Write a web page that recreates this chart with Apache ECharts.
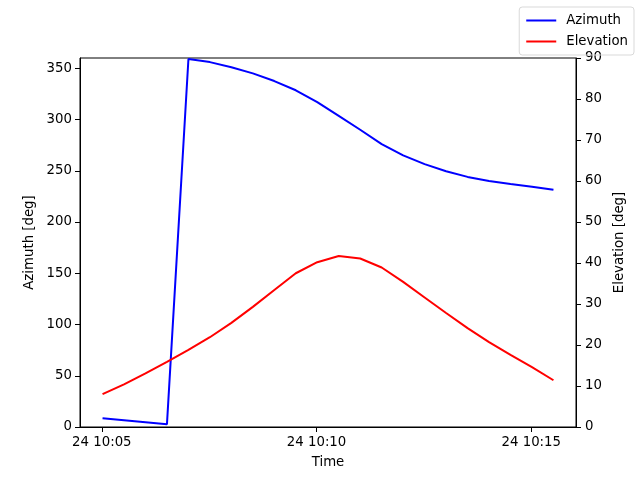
<!DOCTYPE html>
<html>
<head>
<meta charset="utf-8">
<script src="https://cdn.jsdelivr.net/npm/echarts@6/dist/echarts.min.js"></script>
<style>html,body{margin:0;padding:0;background:#fff;}#c{width:640px;height:480px;}</style>
</head>
<body>
<div id="c"></div>
<script>
var times = [
  '2024-01-24T10:05:01', '2024-01-24T10:05:31', '2024-01-24T10:06:01', '2024-01-24T10:06:31',
  '2024-01-24T10:07:01', '2024-01-24T10:07:31', '2024-01-24T10:08:01', '2024-01-24T10:08:31',
  '2024-01-24T10:09:01', '2024-01-24T10:09:31', '2024-01-24T10:10:01', '2024-01-24T10:10:31',
  '2024-01-24T10:11:01', '2024-01-24T10:11:31', '2024-01-24T10:12:01', '2024-01-24T10:12:31',
  '2024-01-24T10:13:01', '2024-01-24T10:13:31', '2024-01-24T10:14:01', '2024-01-24T10:14:31',
  '2024-01-24T10:15:01', '2024-01-24T10:15:31'
];
var azimuth = [8.5, 6.6, 4.7, 2.8, 359.0, 356.0, 351.0, 345.0, 337.5, 328.5, 317.0, 303.5,
               290.0, 276.0, 265.0, 256.5, 249.5, 244.0, 240.0, 237.0, 234.5, 231.5];
var elevation = [8.0, 10.4, 13.1, 15.9, 18.8, 21.9, 25.4, 29.3, 33.4, 37.5, 40.2, 41.7,
                 41.1, 38.9, 35.4, 31.6, 27.8, 24.1, 20.7, 17.6, 14.6, 11.4];
var timeTicks = ['2024-01-24T10:05:00', '2024-01-24T10:10:00', '2024-01-24T10:15:00'];
var xMin = '2024-01-24T10:04:29.5';
var xMax = '2024-01-24T10:16:02.5';
var azTicks = { min: 0, max: 360, interval: 50 };
var elTicks = { min: 0, max: 90, interval: 10 };

function ms(s) { return new Date(s).getTime(); }
function pair(vals) {
  return vals.map(function (v, i) { return [ms(times[i]), v]; });
}
function pad(n) { return (n < 10 ? '0' : '') + n; }
var tickValues = timeTicks.map(ms);

var font = 'DejaVu Sans';
var chart = echarts.init(document.getElementById('c'), null, { renderer: 'canvas' });
chart.setOption({
  animation: false,
  backgroundColor: '#ffffff',
  textStyle: { fontFamily: font },
  grid: {
    left: 80, right: 64, top: 58, bottom: 53,
    containLabel: false, outerBoundsMode: 'none',
    show: true, borderColor: '#000', borderWidth: 1, backgroundColor: 'transparent'
  },
  legend: {
    orient: 'vertical', right: 6, top: 7,
    padding: [7, 6, 7, 7],
    itemGap: 8,
    itemWidth: 30, itemHeight: 2,
    icon: 'rect',
    borderColor: '#d9d9d9', borderWidth: 1, borderRadius: 3,
    textStyle: { fontFamily: font, fontSize: 13.3, color: '#000', padding: [0, 0, 0, 5] },
    data: ['Azimuth', 'Elevation']
  },
  xAxis: {
    type: 'value',
    min: ms(xMin), max: ms(xMax),
    name: 'Time', nameLocation: 'middle', nameGap: 29,
    nameTextStyle: { fontFamily: font, fontSize: 13.3, color: '#000' },
    axisLine: { lineStyle: { color: '#000', width: 1 } },
    axisTick: { show: true, inside: false, length: 5, lineStyle: { color: '#000' }, customValues: tickValues },
    axisLabel: {
      fontFamily: font, fontSize: 13.3, color: '#000', margin: 9,
      customValues: tickValues,
      formatter: function (v) {
        var d = new Date(v);
        return d.getDate() + ' ' + pad(d.getHours()) + ':' + pad(d.getMinutes());
      }
    },
    splitLine: { show: false }, minorTick: { show: false }
  },
  yAxis: [{
    type: 'value', position: 'left',
    min: azTicks.min, max: azTicks.max, interval: azTicks.interval,
    name: 'Azimuth [deg]', nameLocation: 'middle', nameGap: 43,
    nameTextStyle: { fontFamily: font, fontSize: 13.3, color: '#000' },
    axisLine: { show: true, lineStyle: { color: '#000', width: 1 } },
    axisTick: { show: true, inside: false, length: 5, lineStyle: { color: '#000' } },
    axisLabel: { fontFamily: font, fontSize: 13.3, color: '#000', margin: 8, showMaxLabel: false },
    splitLine: { show: false }
  }, {
    type: 'value', position: 'right',
    min: elTicks.min, max: elTicks.max, interval: elTicks.interval,
    name: 'Elevation [deg]', nameLocation: 'middle', nameGap: 31,
    nameTextStyle: { fontFamily: font, fontSize: 13.3, color: '#000' },
    axisLine: { show: true, lineStyle: { color: '#000', width: 1 } },
    axisTick: { show: true, inside: false, length: 5, lineStyle: { color: '#000' } },
    axisLabel: { fontFamily: font, fontSize: 13.3, color: '#000', margin: 9 },
    splitLine: { show: false }
  }],
  series: [{
    name: 'Azimuth', type: 'line', yAxisIndex: 0,
    data: pair(azimuth), showSymbol: false, symbol: 'none',
    lineStyle: { color: '#0000ff', width: 2 }, itemStyle: { color: '#0000ff' }
  }, {
    name: 'Elevation', type: 'line', yAxisIndex: 1,
    data: pair(elevation), showSymbol: false, symbol: 'none',
    lineStyle: { color: '#ff0000', width: 2 }, itemStyle: { color: '#ff0000' }
  }]
});
</script>
</body>
</html>
